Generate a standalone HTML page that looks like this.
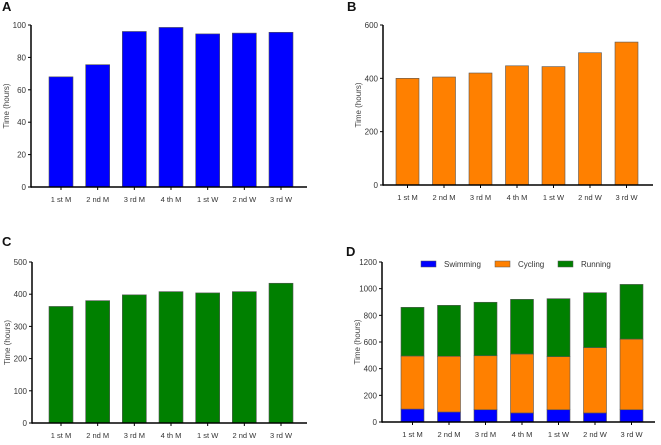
<!DOCTYPE html>
<html><head><meta charset="utf-8"><style>
body{margin:0;background:#fff;width:661px;height:440px;overflow:hidden}
svg{font-family:"Liberation Sans",sans-serif}
</style></head><body>
<svg id="s" width="661" height="440" xmlns="http://www.w3.org/2000/svg"></svg>
<script>
const categories=["1 st M","2 nd M","3 rd M","4 th M","1 st W","2 nd W","3 rd W"];
const swimmingHours=[68,75.5,96,98.5,94.5,95,95.5];
const cyclingHours=[400,405,420,447,444,496,536];
const runningHours=[362,380,398,408,404,408,434];
const stackSwim=[97,75,92,68,92,68,92];
const stackCycle=[398,418,405,442,398,490,530];
const stackRun=[365,382,401,410,435,412,410];
const ticksA=[0,20,40,60,80,100];
const ticksB=[0,200,400,600];
const ticksC=[0,100,200,300,400,500];
const ticksD=[0,200,400,600,800,1000,1200];
const NS="http://www.w3.org/2000/svg";
const svg=document.getElementById('s');
function mk(tag,attrs,parent){const e=document.createElementNS(NS,tag);for(const k in attrs)e.setAttribute(k,attrs[k]);(parent||svg).appendChild(e);return e;}
function panel(p){
  const g=mk('g',{});
  
  
  const y=v=>p.y0-(v/p.max)*(p.y0-p.yTop);
  const step=(p.lastBar-p.firstBar)/(categories.length-1);
  const x=i=>p.firstBar+i*step;
  const lab=mk('text',{x:p.labX,y:p.labY,'font-size':13,'font-weight':'bold',fill:'#111'},g);lab.textContent=p.id;
  
  
  const yt=mk('text',{transform:`translate(${p.ax-22},${(p.y0+p.yTop)/2}) rotate(-90)`,'text-anchor':'middle','font-size':8,fill:'#444'},g);yt.textContent='Time (hours)';
  
  
  // bars
  p.series.forEach((s,si)=>{
    categories.forEach((c,i)=>{
      let base=0;for(let k=0;k<si;k++)base+=p.series[k].vals[i];
      const top=base+s.vals[i];
      const r=mk('rect',{x:x(i),y:y(top),width:p.bw,height:y(base)-y(top),fill:s.color,stroke:'#555','stroke-width':0.6},g);
      
      
    });
  });
  mk('line',{x1:p.ax,y1:p.yTop,x2:p.ax,y2:p.y0+0.75,stroke:'#000','stroke-width':1.5},g);
  mk('line',{x1:p.ax,y1:p.y0,x2:p.axEnd,y2:p.y0,stroke:'#000','stroke-width':1.5},g);
  p.ticks.forEach(t=>{
    mk('line',{x1:p.ax-3,y1:y(t),x2:p.ax,y2:y(t),stroke:'#000','stroke-width':1},g);
    const tt=mk('text',{x:p.ax-5,y:y(t)+3,'text-anchor':'end','font-size':8,fill:'#333'},g);tt.textContent=t;
    
    
  });
  categories.forEach((c,i)=>{
    const cx=x(i)+p.bw/2;
    mk('line',{x1:cx,y1:p.y0,x2:cx,y2:p.y0+3,stroke:'#000','stroke-width':1},g);
    const tt=mk('text',{x:cx,y:p.y0+15,'text-anchor':'middle','font-size':7.5,fill:'#333'},g);tt.textContent=c;
    
    
  });
  return g;
}
panel({id:'A',labX:2,labY:11,ax:31,axEnd:307,y0:187,yTop:25,max:100,ticks:ticksA,firstBar:49,lastBar:269,bw:24,
  series:[{name:'swimming',color:'#0000ff',vals:swimmingHours}]});
panel({id:'B',labX:347,labY:11,ax:383,axEnd:653,y0:185,yTop:25,max:600,ticks:ticksB,firstBar:396,lastBar:615,bw:23,
  series:[{name:'cycling',color:'#ff8000',vals:cyclingHours}]});
panel({id:'C',labX:2,labY:246,ax:32,axEnd:307,y0:423,yTop:262,max:500,ticks:ticksC,firstBar:49,lastBar:269,bw:24,
  series:[{name:'running',color:'#008000',vals:runningHours}]});
const gd=panel({id:'D',labX:346,labY:256,ax:382,axEnd:655,y0:422,yTop:262,max:1200,ticks:ticksD,firstBar:401,lastBar:620,bw:23,
  series:[{name:'swimming',color:'#0000ff',vals:stackSwim},{name:'cycling',color:'#ff8000',vals:stackCycle},{name:'running',color:'#008000',vals:stackRun}]});
const leg=[['Swimming','#0000ff',421],['Cycling','#ff8000',495],['Running','#008000',558]];
leg.forEach(l=>{
  const r=mk('rect',{x:l[2],y:261,width:15,height:6,fill:l[1],stroke:'#555','stroke-width':0.5},gd);
  
  
  const t=mk('text',{x:l[2]+23,y:267,'font-size':8,fill:'#333'},gd);t.textContent=l[0];
  
  
});
</script>
</body></html>
